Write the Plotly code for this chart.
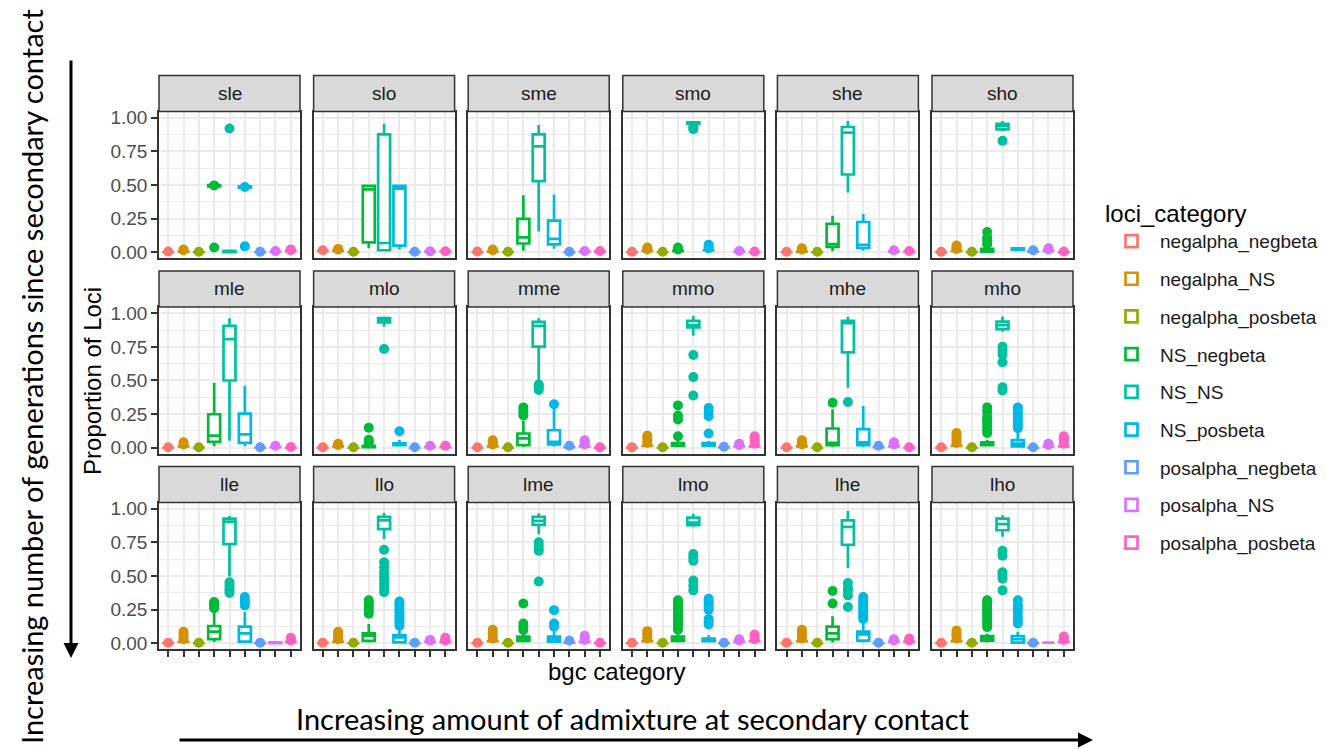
import plotly.graph_objects as go

CATEGORIES = ["negalpha_negbeta", "negalpha_NS", "negalpha_posbeta", "NS_negbeta", "NS_NS",
              "NS_posbeta", "posalpha_negbeta", "posalpha_NS", "posalpha_posbeta"]
COLORS = ["#F8766D", "#D39200", "#93AA00", "#00BA38", "#00C19F",
          "#00B9E3", "#619CFF", "#DB72FB", "#FF61C3"]
PANELS = ["sle", "slo", "sme", "smo", "she", "sho",
          "mle", "mlo", "mme", "mmo", "mhe", "mho",
          "lle", "llo", "lme", "lmo", "lhe", "lho"]
Y_TICKS = [0, 0.25, 0.5, 0.75, 1.0]
Y_TICK_LABELS = ["0.00", "0.25", "0.50", "0.75", "1.00"]

N = None
Q1 = {
    "sle": [0, .005, 0, .49, 0, .48, 0, .005, .01],
    "slo": [.01, .01, 0, .074, .015, .049, 0, .005, .005],
    "sme": [0, .005, 0, .065, .529, .059, 0, .005, .005],
    "smo": [0, .01, 0, .01, .955, .015, N, .005, 0],
    "she": [0, .005, 0, .039, .578, .032, N, .005, .005],
    "sho": [0, .01, 0, .005, .914, .02, .005, .01, 0],
    "mle": [0, .01, 0, .044, .5, .037, 0, .005, 0],
    "mlo": [0, .01, 0, .005, .931, .02, 0, .005, .005],
    "mme": [0, .01, 0, .02, .751, .025, .005, .01, 0],
    "mmo": [0, .015, 0, .015, .894, .015, .003, .01, .01],
    "mhe": [0, .01, 0, .02, .709, .02, .005, .01, 0],
    "mho": [0, .015, 0, .02, .882, .01, 0, .01, .01],
    "lle": [0, .01, 0, .03, .737, .012, 0, 0, .01],
    "llo": [0, .01, 0, .017, .848, .007, 0, .01, .01],
    "lme": [0, .015, 0, .017, .88, .012, .005, .01, 0],
    "lmo": [0, .015, 0, .017, .877, .015, 0, .01, .015],
    "lhe": [0, .015, 0, .03, .732, .02, 0, .01, .01],
    "lho": [0, .015, 0, .02, .84, .005, 0, .005, .01],
}
MEDIAN = {
    "sle": [0, .005, 0, .495, .005, .485, 0, .005, .01],
    "slo": [.01, .01, 0, .468, .069, .473, 0, .005, .005],
    "sme": [0, .005, 0, .11, .787, .1, 0, .005, .005],
    "smo": [0, .01, 0, .01, .96, .015, N, .005, 0],
    "she": [0, .005, 0, .061, .89, .056, N, .005, .005],
    "sho": [0, .01, 0, .015, .94, .025, .005, .01, 0],
    "mle": [0, .01, 0, .09, .808, .1, 0, .005, 0],
    "mlo": [0, .01, 0, .01, .946, .025, 0, .005, .005],
    "mme": [0, .01, 0, .069, .906, .044, .005, .01, 0],
    "mmo": [0, .015, 0, .025, .911, .025, .003, .01, .01],
    "mhe": [0, .01, 0, .037, .926, .04, .005, .01, 0],
    "mho": [0, .015, 0, .03, .911, .03, 0, .01, .01],
    "lle": [0, .01, 0, .086, .904, .074, 0, .003, .01],
    "llo": [0, .01, 0, .054, .914, .044, 0, .01, .01],
    "lme": [0, .015, 0, .03, .909, .03, .005, .01, 0],
    "lmo": [0, .015, 0, .03, .897, .025, 0, .01, .015],
    "lhe": [0, .015, 0, .074, .865, .066, 0, .01, .01],
    "lho": [0, .015, 0, .04, .885, .03, 0, .005, .01],
}
Q3 = {
    "sle": [0, .005, 0, .5, .01, .49, 0, .005, .01],
    "slo": [.01, .01, 0, .493, .877, .493, 0, .005, .005],
    "sme": [0, .005, 0, .248, .877, .235, 0, .005, .005],
    "smo": [0, .01, 0, .01, .965, .015, N, .005, 0],
    "she": [0, .005, 0, .211, .931, .225, N, .005, .005],
    "sho": [0, .01, 0, .025, .955, .03, .005, .01, 0],
    "mle": [0, .01, 0, .249, .906, .254, 0, .005, 0],
    "mlo": [0, .01, 0, .015, .963, .032, 0, .005, .005],
    "mme": [0, .01, 0, .106, .936, .13, .005, .01, 0],
    "mmo": [0, .015, 0, .035, .943, .035, .003, .01, .01],
    "mhe": [0, .01, 0, .143, .943, .138, .005, .01, 0],
    "mho": [0, .015, 0, .04, .938, .057, 0, .01, .01],
    "lle": [0, .01, 0, .128, .926, .123, 0, .006, .01],
    "llo": [0, .01, 0, .074, .939, .061, 0, .01, .01],
    "lme": [0, .015, 0, .049, .939, .049, .005, .01, 0],
    "lmo": [0, .015, 0, .049, .934, .035, 0, .01, .015],
    "lhe": [0, .015, 0, .123, .914, .086, 0, .01, .01],
    "lho": [0, .015, 0, .054, .926, .054, 0, .005, .01],
}
LOWER = {
    "sle": [0, .005, 0, .49, 0, .48, 0, .005, .01],
    "slo": [.01, .01, 0, .03, .008, .02, 0, .005, .005],
    "sme": [0, .005, 0, .012, .154, .027, 0, .005, .005],
    "smo": [0, .01, 0, .01, .95, .015, N, .005, 0],
    "she": [0, .005, 0, .007, .444, .012, N, .005, .005],
    "sho": [0, .01, 0, 0, .9, .015, .005, .01, 0],
    "mle": [0, .01, 0, .012, .052, .012, 0, .005, 0],
    "mlo": [0, .01, 0, 0, .9, .01, 0, .005, .005],
    "mme": [0, .01, 0, .005, .49, .01, .005, .01, 0],
    "mmo": [0, .015, 0, .005, .833, .005, .003, .01, .01],
    "mhe": [0, .01, 0, .005, .446, .005, .005, .01, 0],
    "mho": [0, .015, 0, .01, .862, .003, 0, .01, .01],
    "lle": [0, .01, 0, .01, .496, .005, 0, 0, .01],
    "llo": [0, .01, 0, .005, .774, .002, 0, .01, .01],
    "lme": [0, .015, 0, .005, .81, .005, .005, .01, 0],
    "lmo": [0, .015, 0, .005, .865, .005, 0, .01, .015],
    "lhe": [0, .015, 0, .005, .56, .005, 0, .01, .01],
    "lho": [0, .015, 0, .005, .791, .002, 0, .005, .01],
}
UPPER = {
    "sle": [0, .005, 0, .5, .01, .49, 0, .005, .01],
    "slo": [.01, .01, 0, .493, .956, .493, 0, .005, .005],
    "sme": [0, .005, 0, .424, .946, .429, 0, .005, .005],
    "smo": [0, .01, 0, .01, .97, .015, N, .005, 0],
    "she": [0, .005, 0, .272, .975, .284, N, .005, .005],
    "sho": [0, .01, 0, .035, .975, .035, .005, .01, 0],
    "mle": [0, .01, 0, .483, .963, .461, 0, .005, 0],
    "mlo": [0, .01, 0, .02, .97, .057, 0, .005, .005],
    "mme": [0, .01, 0, .2, .963, .3, .005, .01, 0],
    "mmo": [0, .015, 0, .05, .98, .05, .003, .01, .01],
    "mhe": [0, .01, 0, .286, .973, .31, .005, .01, 0],
    "mho": [0, .015, 0, .06, .975, .13, 0, .01, .01],
    "lle": [0, .01, 0, .246, .946, .233, 0, .006, .01],
    "llo": [0, .01, 0, .143, .97, .12, 0, .01, .01],
    "lme": [0, .015, 0, .08, .966, .09, .005, .01, 0],
    "lmo": [0, .015, 0, .08, .963, .06, 0, .01, .015],
    "lhe": [0, .015, 0, .2, .983, .17, 0, .01, .01],
    "lho": [0, .015, 0, .07, .951, .086, 0, .005, .01],
}
OUTLIERS = {
    "sle": [[.006], [.015, .02], [.004], [.035, .497], [.92], [.044, .485], [.004], [.01], [.015, .02]],
    "slo": [[.015], [.02, .025], [.004], [], [], [], [.004], [.008], [.008]],
    "sme": [[.006], [.015, .02], [.004], [], [], [], [.004], [.01], [.01]],
    "smo": [[.004], [.02, .035], [.004], [.02, .035], [.914, .93], [.03, .045, .055], [], [.01], [.006]],
    "she": [[.004], [.02, .03], [.004], [], [], [], [], [.015], [.01]],
    "sho": [[.004], [.025, .04, .05], [.004], [.06, .09, .11, .15], [.828], [], [.015], [.02, .03], [.006]],
    "mle": [[.004], [.025, .04], [.004], [], [], [], [.004], [.015], [.006]],
    "mlo": [[.004], [.02, .03], [.004], [.035, .05, .06, .148], [.734], [.123], [.004], [.015], [.015]],
    "mme": [[.004], [.025, .04, .055], [.004], [.24, .26, .28, .3], [.43, .445, .46, .47], [.323],
            [.015], [.025, .04, .055], [.004]],
    "mmo": [[.004], [.035, .055, .075, .09], [.004], [.086, .21, .24, .315], [.69, .525, .389],
            [.106, .234, .266, .296], [.008], [.02, .03], [.03, .05, .07, .085]],
    "mhe": [[.004], [.025, .04, .055], [.004], [.335], [.34], [], [.015], [.025, .04], [.004]],
    "mho": [[.004], [.035, .055, .075, .095, .11], [.004], [.11, .13, .16, .19, .21, .23, .27, .3],
            [.751, .722, .692, .635, .45, .426], [.145, .165, .185, .205, .225, .245, .265, .285, .3],
            [.004], [.02, .03], [.03, .05, .07, .085]],
    "lle": [[.004], [.03, .05, .07, .085], [.004], [.26, .28, .295, .307], [.373, .39, .405, .43, .454],
            [.28, .3, .32, .344], [.004], [], [.02, .03, .04]],
    "llo": [[.004], [.03, .05, .07, .085], [.004], [.22, .24, .26, .28, .3, .32],
            [.695, .602, .565, .53, .5, .47, .44, .41, .38],
            [.13, .15, .17, .19, .21, .23, .25, .27, .29, .31], [.004], [.02, .025], [.02, .03, .04]],
    "lme": [[.004], [.035, .055, .075, .1], [.004], [.098, .123, .147, .295], [.75, .725, .7, .688, .459],
            [.123, .147, .246], [.02], [.025, .04, .055], [.004]],
    "lmo": [[.004], [.035, .055, .075, .09], [.004],
            [.1, .12, .14, .16, .18, .2, .22, .24, .26, .28, .3, .32],
            [.663, .639, .614, .467, .43, .393], [.14, .16, .18, .25, .27, .29, .31, .33],
            [.004], [.02, .03], [.03, .05, .065]],
    "lhe": [[.004], [.035, .055, .075, .1], [.004], [.295, .388], [.447, .41, .393, .356, .27],
            [.18, .2, .22, .24, .26, .28, .3, .32, .344], [.004], [.02, .03], [.02, .035]],
    "lho": [[.004], [.035, .055, .075, .095], [.004],
            [.12, .14, .16, .18, .2, .22, .24, .26, .28, .3, .32],
            [.688, .651, .528, .504, .479, .393], [.147, .175, .197, .233, .26, .283, .32],
            [.004], [], [.025, .04, .05]],
}

# ---------------------------------------------------------------- layout
W, H = 1338, 749
COL_LEFT0, COL_PITCH, PANEL_W = 159, 154.6, 141
ROW_TOP0, ROW_PITCH, PANEL_H, STRIP_H = 108.7, 197.6, 148.5, 36.5
YR = [-0.046, 1.046]
FONT = "Liberation Sans, Arial, sans-serif"


def fx(x):
    return x / W


def fy(y):
    return 1 - y / H


fig = go.Figure()
layout = {}
shapes = []
annotations = []

# outliers first (drawn below boxes, as in ggplot)
for k, p in enumerate(PANELS):
    ax = "" if k == 0 else str(k + 1)
    for i, cat in enumerate(CATEGORIES):
        pts = OUTLIERS[p][i]
        if not pts:
            continue
        fig.add_trace(go.Scatter(
            x=[i + 1] * len(pts), y=pts, mode="markers",
            marker=dict(size=10, color=COLORS[i], line=dict(width=0)),
            xaxis="x" + ax, yaxis="y" + ax, showlegend=False, hoverinfo="skip"))

for k, p in enumerate(PANELS):
    ax = "" if k == 0 else str(k + 1)
    for i, cat in enumerate(CATEGORIES):
        if Q1[p][i] is None:
            continue
        fig.add_trace(go.Box(
            x=[i + 1], q1=[Q1[p][i]], median=[MEDIAN[p][i]], q3=[Q3[p][i]],
            lowerfence=[LOWER[p][i]], upperfence=[UPPER[p][i]],
            boxpoints=False, width=0.78, whiskerwidth=0,
            fillcolor="white", line=dict(color=COLORS[i], width=2.7),
            name=cat, legendgroup=cat, showlegend=(k == 0),
            xaxis="x" + ax, yaxis="y" + ax, hoverinfo="skip"))

for k, p in enumerate(PANELS):
    r, c = divmod(k, 6)
    ax = "" if k == 0 else str(k + 1)
    left = COL_LEFT0 + c * COL_PITCH
    top = ROW_TOP0 + r * ROW_PITCH
    layout["xaxis" + ax] = dict(
        domain=[fx(left), fx(left + PANEL_W)], anchor="y" + ax,
        range=[0.4, 9.6], tickvals=list(range(1, 10)), showticklabels=False,
        ticks="outside" if r == 2 else "", ticklen=6, tickwidth=2, tickcolor="#333333",
        showgrid=True, gridcolor="#ebebeb", gridwidth=2,
        showline=True, linecolor="#333333", linewidth=1.5, mirror=True,
        zeroline=False, fixedrange=True)
    layout["yaxis" + ax] = dict(
        domain=[fy(top + PANEL_H), fy(top)], anchor="x" + ax,
        range=YR, tickvals=Y_TICKS, ticktext=Y_TICK_LABELS,
        showticklabels=(c == 0),
        ticks="outside" if c == 0 else "", ticklen=6, tickwidth=2, tickcolor="#333333",
        tickfont=dict(size=19, color="#4d4d4d", family=FONT),
        showgrid=True, gridcolor="#ebebeb", gridwidth=2,
        minor=dict(tickvals=[0.125, 0.375, 0.625, 0.875], showgrid=True,
                   gridcolor="#ebebeb", gridwidth=1, ticks=""),
        showline=True, linecolor="#333333", linewidth=1.5, mirror=True,
        zeroline=False, fixedrange=True)
    shapes.append(dict(type="rect", xref="paper", yref="paper",
                       x0=fx(left), x1=fx(left + PANEL_W), y0=fy(top), y1=fy(top - STRIP_H),
                       fillcolor="#d9d9d9", line=dict(color="#333333", width=1.5), layer="above"))
    annotations.append(dict(text=p, xref="paper", yref="paper",
                            x=fx(left + PANEL_W / 2), y=fy(top - STRIP_H / 2),
                            xanchor="center", yanchor="middle", showarrow=False,
                            font=dict(size=19, color="#1a1a1a", family=FONT)))

# axis titles
annotations.append(dict(text="bgc category", xref="paper", yref="paper",
                        x=fx(616), y=fy(675), xanchor="center", yanchor="middle",
                        showarrow=False, font=dict(size=24, color="black", family=FONT)))
annotations.append(dict(text="Proportion of Loci", xref="paper", yref="paper",
                        x=fx(93), y=fy(381), xanchor="center", yanchor="middle", textangle=-90,
                        showarrow=False, font=dict(size=24, color="black", family=FONT)))

# outer annotations
OUTER_FONT = "Lato, Open Sans, sans-serif"
annotations.append(dict(text="Increasing number of generations since secondary contact",
                        xref="paper", yref="paper", x=fx(32), y=fy(377),
                        xanchor="center", yanchor="middle", textangle=-90, showarrow=False,
                        font=dict(size=29, color="black", family=OUTER_FONT)))
annotations.append(dict(text="Increasing amount of admixture at secondary contact",
                        xref="paper", yref="paper", x=fx(633), y=fy(722),
                        xanchor="center", yanchor="middle", showarrow=False,
                        font=dict(size=29, color="black", family=OUTER_FONT)))
annotations.append(dict(text="", xref="paper", yref="paper", x=fx(71), y=fy(661),
                        ax=0, ay=62 - 661, axref="pixel", ayref="pixel",
                        showarrow=True, arrowhead=2, arrowsize=1, arrowwidth=3,
                        arrowcolor="black", standoff=0, startstandoff=0))
annotations.append(dict(text="", xref="paper", yref="paper", x=fx(1093), y=fy(744),
                        ax=178 - 1093, ay=0, axref="pixel", ayref="pixel",
                        showarrow=True, arrowhead=2, arrowsize=1, arrowwidth=3,
                        arrowcolor="black", standoff=0, startstandoff=0))

fig.update_layout(
    width=W, height=H, margin=dict(l=0, r=0, t=0, b=0),
    paper_bgcolor="white", plot_bgcolor="white",
    boxmode="overlay", shapes=shapes, annotations=annotations,
    legend=dict(x=fx(1103), y=fy(189), xanchor="left", yanchor="top",
                font=dict(size=19, color="#1a1a1a", family=FONT),
                title=dict(text="loci_category", font=dict(size=24, color="black", family=FONT)),
                tracegroupgap=10, bgcolor="rgba(0,0,0,0)", itemwidth=47),
    font=dict(family=FONT),
    **layout)

fig.write_html("out.html")
